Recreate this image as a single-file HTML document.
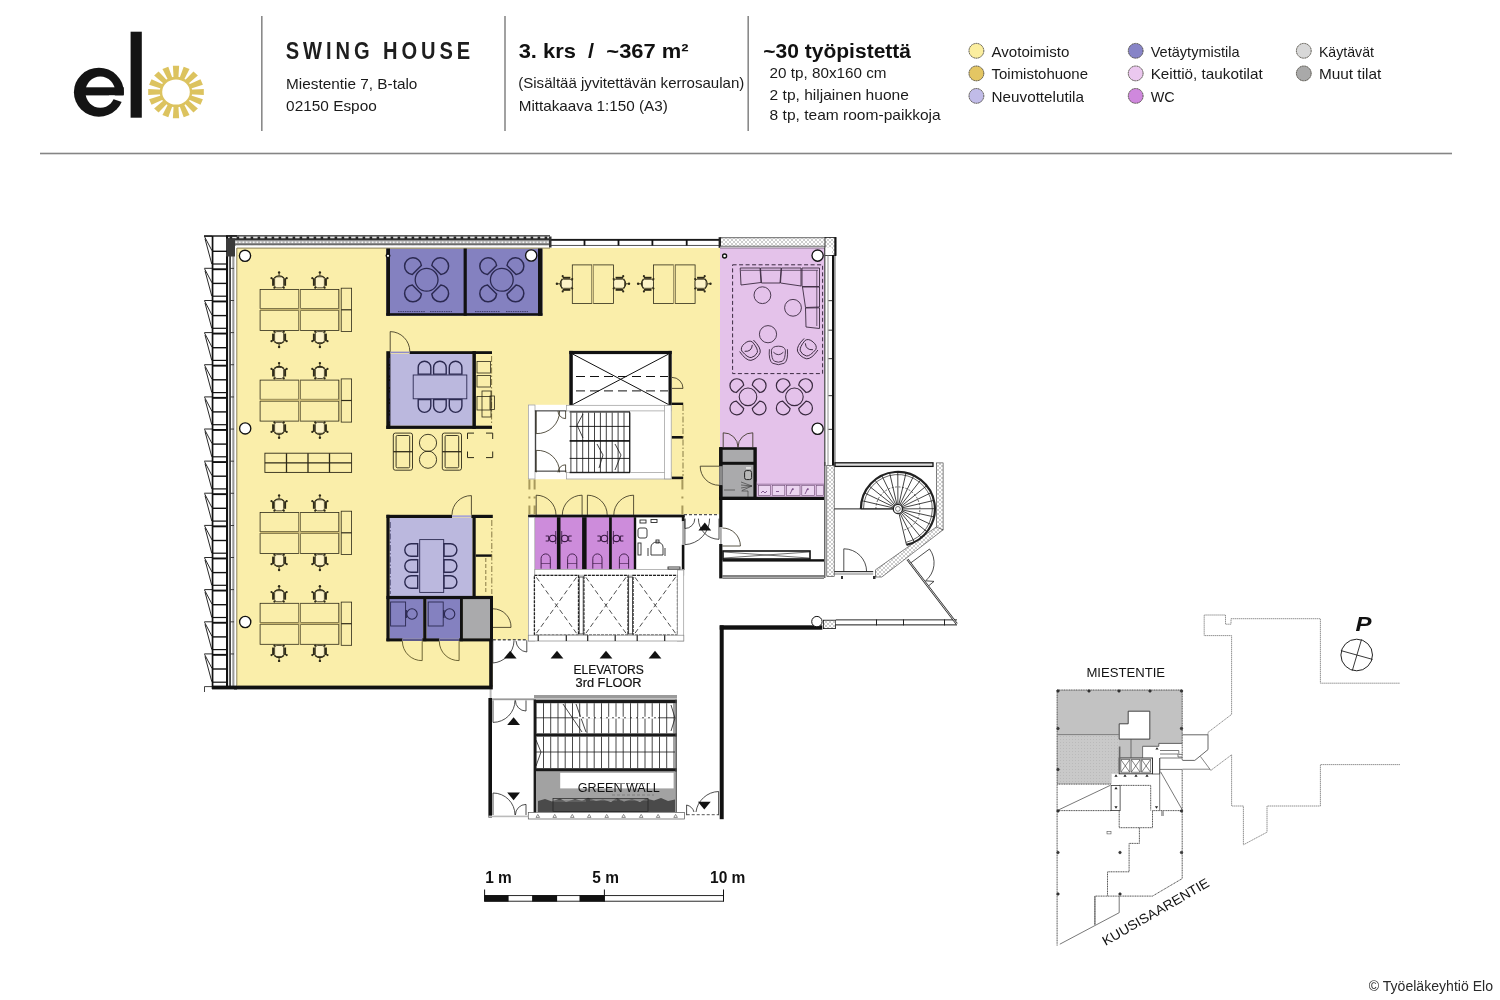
<!DOCTYPE html>
<html><head><meta charset="utf-8"><title>Swing House 3. krs</title>
<style>
html,body{margin:0;padding:0;background:#fff;}
body{width:1500px;height:1000px;overflow:hidden;}
svg{display:block;will-change:transform;}
text{font-family:"Liberation Sans",sans-serif;}
</style></head>
<body>
<svg width="1500" height="1000" viewBox="0 0 1500 1000">
<defs>
<pattern id="hatchTop" x="0" y="236.3" width="7" height="9.3" patternUnits="userSpaceOnUse">
 <rect width="7" height="9.3" fill="#bcbcbc"/>
 <rect y="0" width="7" height="3.3" fill="#262626"/>
 <rect x="1.2" y="0.5" width="4.4" height="1.6" fill="#fff"/>
 <rect y="3.3" width="7" height="1.4" fill="#8a8a8a"/>
 <circle cx="1.8" cy="6" r="0.8" fill="#fff"/><circle cx="5.3" cy="6" r="0.8" fill="#fff"/>
 <rect y="7.3" width="7" height="2" fill="#6a6a6a"/>
</pattern>
<pattern id="xhatch" width="4" height="4" patternUnits="userSpaceOnUse">
 <rect width="4" height="4" fill="#fff"/>
 <path d="M0,0 L4,4 M4,0 L0,4" stroke="#9a9a9a" stroke-width="0.5"/>
</pattern>
<pattern id="dots" width="3" height="3" patternUnits="userSpaceOnUse">
 <rect width="3" height="3" fill="#c9c9c9"/>
 <circle cx="1.5" cy="1.5" r="0.5" fill="#b5b5b5"/>
</pattern>
</defs>

<!-- ================= HEADER ================= -->
<g id="header">
 <!-- logo e -->
 <ellipse cx="98.85" cy="92.2" rx="24.95" ry="24.5" fill="#141414"/>
 <ellipse cx="100.3" cy="92.1" rx="14.9" ry="15.7" fill="#fff"/>
 <rect x="84.5" y="87.3" width="39.3" height="8.1" fill="#141414"/>
 <polygon points="109,95.4 127,95.4 127,103.8 114.5,99.4 109,98" fill="#fff"/>
 <!-- l -->
 <rect x="130.6" y="31.7" width="11.2" height="86" fill="#141414"/>
 <!-- sun -->
 <g transform="translate(176,92) scale(1,0.94)" fill="#dcc35f">
  <circle r="16.2"/>
  <g id="rays"><polygon points="-2.3,-13 2.3,-13 3.15,-27.8 -3.15,-27.8" transform="rotate(0.0)"/><polygon points="-2.3,-13 2.3,-13 3.15,-27.8 -3.15,-27.8" transform="rotate(22.5)"/><polygon points="-2.3,-13 2.3,-13 3.15,-27.8 -3.15,-27.8" transform="rotate(45.0)"/><polygon points="-2.3,-13 2.3,-13 3.15,-27.8 -3.15,-27.8" transform="rotate(67.5)"/><polygon points="-2.3,-13 2.3,-13 3.15,-27.8 -3.15,-27.8" transform="rotate(90.0)"/><polygon points="-2.3,-13 2.3,-13 3.15,-27.8 -3.15,-27.8" transform="rotate(112.5)"/><polygon points="-2.3,-13 2.3,-13 3.15,-27.8 -3.15,-27.8" transform="rotate(135.0)"/><polygon points="-2.3,-13 2.3,-13 3.15,-27.8 -3.15,-27.8" transform="rotate(157.5)"/></g>
  <use href="#rays" transform="rotate(180)"/>
  <ellipse rx="13.8" ry="13.4" fill="#fff"/>
 </g>
 <!-- separators -->
 <rect x="261" y="16" width="1.6" height="115" fill="#8a8a8a"/>
 <rect x="504.2" y="16" width="1.6" height="115" fill="#8a8a8a"/>
 <rect x="747.4" y="16" width="1.6" height="115" fill="#8a8a8a"/>
 <rect x="40" y="152.7" width="1412" height="1.6" fill="#858585"/>

 <text transform="scale(0.86,1)" x="332.3" y="59.5" font-size="23.4" font-weight="bold" fill="#1e1e1e" textLength="214.4" lengthAdjust="spacing">SWING HOUSE</text>
 <text x="286.1" y="89.1" font-size="15" fill="#1a1a1a" textLength="131.3" lengthAdjust="spacingAndGlyphs">Miestentie 7, B-talo</text>
 <text x="286.1" y="111" font-size="15" fill="#1a1a1a" textLength="90.7" lengthAdjust="spacingAndGlyphs">02150 Espoo</text>

 <text x="518.7" y="58.1" font-size="20.8" font-weight="bold" fill="#111" textLength="169.9" lengthAdjust="spacingAndGlyphs" xml:space="preserve">3. krs  /  ~367 m²</text>
 <text x="518.2" y="88.4" font-size="15" fill="#1a1a1a" textLength="226.2" lengthAdjust="spacingAndGlyphs">(Sisältää jyvitettävän kerrosaulan)</text>
 <text x="518.7" y="110.6" font-size="15" fill="#1a1a1a" textLength="149.1" lengthAdjust="spacingAndGlyphs">Mittakaava 1:150 (A3)</text>

 <text x="763.3" y="58" font-size="20.3" font-weight="bold" fill="#111" textLength="147.7" lengthAdjust="spacingAndGlyphs">~30 työpistettä</text>
 <text x="769.6" y="78.3" font-size="15" fill="#1a1a1a" textLength="116.9" lengthAdjust="spacingAndGlyphs">20 tp, 80x160 cm</text>
 <text x="769.6" y="99.6" font-size="15" fill="#1a1a1a" textLength="139.3" lengthAdjust="spacingAndGlyphs">2 tp, hiljainen huone</text>
 <text x="769.6" y="120.3" font-size="15" fill="#1a1a1a" textLength="171.1" lengthAdjust="spacingAndGlyphs">8 tp, team room-paikkoja</text>

 <!-- legend -->
 <g stroke="#3d3a30" stroke-width="0.9" stroke-dasharray="1.3,0.5">
  <circle cx="976.4" cy="50.8" r="7.4" fill="#fbee9f"/>
  <circle cx="976.4" cy="73.4" r="7.4" fill="#e4c663"/>
  <circle cx="976.4" cy="95.9" r="7.4" fill="#c1bce8"/>
  <circle cx="1135.7" cy="50.8" r="7.4" fill="#8784c7"/>
  <circle cx="1135.7" cy="73.4" r="7.4" fill="#ebc8ef"/>
  <circle cx="1135.7" cy="95.9" r="7.4" fill="#cf88dd"/>
  <circle cx="1303.8" cy="50.8" r="7.4" fill="#d8d8d8"/>
  <circle cx="1303.8" cy="73.4" r="7.4" fill="#a9a9a9"/>
 </g>
 <g font-size="15" fill="#1a1a1a">
  <text x="991.5" y="56.7" textLength="77.8" lengthAdjust="spacingAndGlyphs">Avotoimisto</text>
  <text x="991.5" y="79.2" textLength="96.5" lengthAdjust="spacingAndGlyphs">Toimistohuone</text>
  <text x="991.5" y="101.7" textLength="92.5" lengthAdjust="spacingAndGlyphs">Neuvottelutila</text>
  <text x="1150.7" y="56.7" textLength="89" lengthAdjust="spacingAndGlyphs">Vetäytymistila</text>
  <text x="1150.7" y="79.2" textLength="112" lengthAdjust="spacingAndGlyphs">Keittiö, taukotilat</text>
  <text x="1150.7" y="101.7" textLength="24" lengthAdjust="spacingAndGlyphs">WC</text>
  <text x="1318.9" y="56.7" textLength="55.1" lengthAdjust="spacingAndGlyphs">Käytävät</text>
  <text x="1318.9" y="79.2" textLength="62.4" lengthAdjust="spacingAndGlyphs">Muut tilat</text>
 </g>
</g>

<!-- ================= PLAN FILLS ================= -->
<g id="fills">
 <polygon points="237,248 720,248 720,514.5 528,514.5 528,640 492.8,640 492.8,686 237,686" fill="#faeeaa"/>
 <rect x="720" y="247.5" width="104.5" height="249.5" fill="#e4c2ea"/>
</g>


<g id="walls">
<rect x="386.3" y="248.5" width="156.1" height="67.2" fill="#8481c0" />
<rect x="389.0" y="354.0" width="83.4" height="71.7" fill="#bbb8de" />
<rect x="389.6" y="518.0" width="82.9" height="78.0" fill="#bbb8de" />
<rect x="389.6" y="599.0" width="33.6" height="39.8" fill="#8481c0" />
<rect x="426.4" y="599.0" width="33.6" height="39.8" fill="#8481c0" />
<rect x="462.9" y="599.0" width="27.1" height="39.8" fill="#aaaaac" />
<rect x="569.3" y="350.9" width="102.4" height="54.4" fill="#fff" />
<rect x="528.0" y="404.8" width="143.2" height="74.4" fill="#fff" />
<rect x="528.0" y="515.0" width="156.0" height="126.2" fill="#fff" />
<rect x="534.8" y="517.2" width="99.8" height="52.2" fill="#cd8cdb" />
<rect x="684.0" y="514.5" width="35.6" height="111.5" fill="#fff" />
<rect x="719.2" y="447.2" width="37.6" height="52.8" fill="#111" />
<rect x="722.4" y="449.8" width="31.0" height="12.0" fill="#aaaaac" />
<rect x="722.4" y="464.8" width="31.0" height="32.0" fill="#aaaaac" />
<rect x="756.8" y="481.6" width="67.2" height="15.4" fill="#e4c2ea" />
<rect x="758.5" y="485.5" width="11.9" height="10" fill="#ecd6f1" stroke="#6a4a70" stroke-width="0.6"/>
<rect x="772.2" y="485.5" width="12.6" height="10" fill="#ecd6f1" stroke="#6a4a70" stroke-width="0.6"/>
<rect x="786.6" y="485.5" width="13.4" height="10" fill="#ecd6f1" stroke="#6a4a70" stroke-width="0.6"/>
<rect x="801.8" y="485.5" width="12.6" height="10" fill="#ecd6f1" stroke="#6a4a70" stroke-width="0.6"/>
<rect x="816.2" y="485.5" width="7.4" height="10" fill="#ecd6f1" stroke="#6a4a70" stroke-width="0.6"/>
<line x1="756.8" y1="484.2" x2="824.0" y2="484.2" stroke="#6a4a70" stroke-width="0.6" />
<path d="M761,493 l2,-2 l2,2 l2,-2 M776,491.5 l3,0 M790,494 l3,-6 M791.5,490 l2.5,-1 M805,494 l3,-6 M806.5,490 l2.5,-1" stroke="#6a3a78" stroke-width="0.8" fill="none"/>
<rect x="226.0" y="235.3" width="324.0" height="1.0" fill="#111" />
<rect x="226" y="236.3" width="324" height="9.2" fill="url(#hatchTop)"/>
<rect x="226.0" y="238.8" width="324.0" height="1.0" fill="#222" />
<rect x="226.0" y="243.6" width="324.0" height="1.8" fill="#6a6a6a" />
<rect x="236.0" y="245.4" width="314.0" height="2.2" fill="#fff" />
<rect x="237.0" y="247.6" width="313.0" height="1.0" fill="#8c8157" />
<rect x="550.0" y="238.9" width="170.3" height="2.0" fill="#1a1a1a" />
<rect x="550.0" y="244.8" width="170.3" height="1.0" fill="#333" />
<rect x="550.0" y="240.9" width="170.3" height="3.9" fill="#fff" />
<rect x="583.6" y="240.0" width="1.8" height="5.5" fill="#111" />
<rect x="617.6" y="240.0" width="1.8" height="5.5" fill="#111" />
<rect x="651.5" y="240.0" width="1.8" height="5.5" fill="#111" />
<rect x="685.8" y="240.0" width="1.8" height="5.5" fill="#111" />
<rect x="549.0" y="236.5" width="2.5" height="11.0" fill="#333" />
<rect x="718.6" y="237.2" width="2.6" height="10.6" fill="#222" />
<rect x="720.0" y="237.4" width="105.0" height="1.0" fill="#333" />
<rect x="721" y="238.4" width="104" height="7.6" fill="url(#xhatch)"/>
<rect x="720.0" y="245.8" width="105.0" height="1.0" fill="#555" />
<rect x="720.0" y="246.8" width="105.0" height="1.0" fill="#fff" />
<rect x="720.0" y="247.6" width="104.5" height="0.8" fill="#6d5a72" />
<rect x="825" y="237.4" width="11" height="18" fill="url(#xhatch)" stroke="#111" stroke-width="0.8"/>
<rect x="832.0" y="255.0" width="2.3" height="211.0" fill="#111" />
<rect x="834.6" y="255.0" width="0.9" height="211.0" fill="#666" />
<rect x="834.3" y="237.4" width="1.9" height="18.6" fill="#111" />
<rect x="824.2" y="247.5" width="1.2" height="218.5" fill="#444" />
<rect x="827.6" y="255.0" width="0.8" height="211.0" fill="#777" />
<rect x="825.4" y="247.5" width="6.6" height="7.5" fill="#fff" />
<rect x="828.4" y="300.0" width="3.6" height="1.2" fill="#555" />
<rect x="828.4" y="329.6" width="3.6" height="1.2" fill="#555" />
<rect x="828.4" y="358.0" width="3.6" height="1.2" fill="#555" />
<rect x="828.4" y="395.0" width="3.6" height="1.2" fill="#555" />
<rect x="828.4" y="428.8" width="3.6" height="1.2" fill="#555" />
<rect x="386.3" y="248.5" width="3.7" height="67.2" fill="#111" />
<rect x="463.6" y="248.5" width="3.2" height="67.2" fill="#111" />
<rect x="538.0" y="248.5" width="4.4" height="67.2" fill="#111" />
<rect x="386.3" y="313.2" width="156.1" height="2.5" fill="#111" />
<rect x="386.3" y="351.2" width="4.1" height="77.7" fill="#111" />
<rect x="409.6" y="351.2" width="82.4" height="2.8" fill="#111" />
<rect x="390.4" y="351.6" width="19.2" height="1.6" fill="#8f8bc8" />
<rect x="472.4" y="351.2" width="3.5" height="77.7" fill="#111" />
<rect x="386.3" y="425.7" width="105.7" height="3.2" fill="#111" />
<line x1="491.6" y1="356.0" x2="491.6" y2="425.0" stroke="#7a6d3a" stroke-width="0.9" stroke-dasharray="6,2,1.5,2"/>
<rect x="386.4" y="514.8" width="65.6" height="3.2" fill="#111" />
<rect x="452.0" y="515.3" width="19.4" height="2.1" fill="#a9a5d6" />
<rect x="471.4" y="514.8" width="21.4" height="3.2" fill="#111" />
<rect x="386.4" y="514.8" width="3.2" height="126.4" fill="#111" />
<rect x="472.5" y="518.0" width="3.2" height="81.0" fill="#111" />
<rect x="386.4" y="595.9" width="106.4" height="3.2" fill="#111" />
<rect x="475.7" y="554.4" width="16.3" height="2.4" fill="#111" />
<line x1="491.8" y1="520.0" x2="491.8" y2="594.0" stroke="#7a6d3a" stroke-width="0.9" stroke-dasharray="6,2,1.5,2"/>
<line x1="485.8" y1="558.0" x2="485.8" y2="594.0" stroke="#7a6d3a" stroke-width="0.9" stroke-dasharray="4,2"/>
<rect x="423.2" y="599.0" width="3.2" height="42.2" fill="#111" />
<rect x="460.0" y="599.0" width="2.9" height="42.2" fill="#111" />
<rect x="490.0" y="596.0" width="3.0" height="45.2" fill="#111" />
<rect x="386.4" y="638.4" width="16.0" height="3.0" fill="#111" />
<rect x="422.2" y="638.4" width="17.1" height="3.0" fill="#111" />
<rect x="459.1" y="638.4" width="33.9" height="3.0" fill="#111" />
<rect x="402.4" y="638.8" width="19.8" height="2.2" fill="#5d5a8a" />
<rect x="439.3" y="638.8" width="19.8" height="2.2" fill="#5d5a8a" />
<rect x="489.2" y="640.0" width="3.6" height="46.4" fill="#111" />
<rect x="488.4" y="698.0" width="3.6" height="119.5" fill="#111" />
<rect x="489.6" y="686.4" width="2.0" height="11.6" fill="#bbb" />
<rect x="234.0" y="685.6" width="258.8" height="3.8" fill="#111" />
<rect x="234.0" y="246.0" width="3.0" height="440.0" fill="#fff" />
<rect x="236.3" y="248.0" width="1.0" height="438.0" fill="#8c8157" />
<rect x="569.3" y="350.9" width="102.4" height="3.2" fill="#111" />
<rect x="569.3" y="350.9" width="3.5" height="54.4" fill="#111" />
<rect x="668.5" y="350.9" width="3.2" height="54.4" fill="#111" />
<line x1="572.8" y1="354.1" x2="668.5" y2="404.5" stroke="#111" stroke-width="1" />
<line x1="668.5" y1="354.1" x2="572.8" y2="404.5" stroke="#111" stroke-width="1" />
<line x1="576.0" y1="376.5" x2="668.0" y2="376.5" stroke="#111" stroke-width="1" stroke-dasharray="9,5"/>
<line x1="576.0" y1="390.9" x2="668.0" y2="390.9" stroke="#111" stroke-width="1" stroke-dasharray="9,5"/>
<rect x="671.7" y="402.6" width="11.5" height="2.4" fill="#111" />
<rect x="671.7" y="436.0" width="11.5" height="2.6" fill="#111" />
<rect x="671.7" y="476.6" width="11.5" height="2.6" fill="#111" />
<line x1="683.0" y1="405.0" x2="683.0" y2="476.0" stroke="#7a6d3a" stroke-width="0.9" stroke-dasharray="6,2,1.5,2"/>
<rect x="528.4" y="405" width="6.6" height="74" fill="#fff" stroke="#999" stroke-width="0.7"/>
<rect x="534.8" y="410.0" width="31.6" height="1.6" fill="#777" />
<rect x="534.8" y="470.4" width="31.6" height="1.6" fill="#777" />
<rect x="566.4" y="405.3" width="104.6" height="5.6" fill="#fff" stroke="#999" stroke-width="0.7"/>
<rect x="566.4" y="472.6" width="104.6" height="6.4" fill="#fff" stroke="#999" stroke-width="0.7"/>
<rect x="664.6" y="405.3" width="6.6" height="73.6" fill="#fff" stroke="#999" stroke-width="0.7"/>
<rect x="535.0" y="410.5" width="1.2" height="61.5" fill="#444" />
<rect x="569.6" y="411.2" width="60.4" height="1.4" fill="#333" />
<rect x="569.6" y="440.0" width="60.4" height="1.8" fill="#222" />
<rect x="569.6" y="471.8" width="60.4" height="1.4" fill="#222" />
<line x1="569.6" y1="426.4" x2="629.6" y2="426.4" stroke="#111" stroke-width="0.9" />
<line x1="569.6" y1="458.4" x2="629.6" y2="458.4" stroke="#111" stroke-width="0.9" />
<line x1="570.9" y1="412.6" x2="570.9" y2="472.0" stroke="#111" stroke-width="0.8" />
<line x1="576.8" y1="412.6" x2="576.8" y2="472.0" stroke="#111" stroke-width="0.8" />
<line x1="582.7" y1="412.6" x2="582.7" y2="472.0" stroke="#111" stroke-width="0.8" />
<line x1="588.6" y1="412.6" x2="588.6" y2="472.0" stroke="#111" stroke-width="0.8" />
<line x1="594.5" y1="412.6" x2="594.5" y2="472.0" stroke="#111" stroke-width="0.8" />
<line x1="600.4" y1="412.6" x2="600.4" y2="472.0" stroke="#111" stroke-width="0.8" />
<line x1="606.3" y1="412.6" x2="606.3" y2="472.0" stroke="#111" stroke-width="0.8" />
<line x1="612.2" y1="412.6" x2="612.2" y2="472.0" stroke="#111" stroke-width="0.8" />
<line x1="618.1" y1="412.6" x2="618.1" y2="472.0" stroke="#111" stroke-width="0.8" />
<line x1="624.0" y1="412.6" x2="624.0" y2="472.0" stroke="#111" stroke-width="0.8" />
<line x1="629.9" y1="412.6" x2="629.9" y2="472.0" stroke="#111" stroke-width="0.8" />
<line x1="629.6" y1="412.0" x2="629.6" y2="472.5" stroke="#111" stroke-width="0.9" />
<path d="M583,414 L577,425 L583,438" stroke="#111" stroke-width="0.8" fill="none"/>
<path d="M597,444 L603,455 L599,468 M615,444 L621,455 L615,470" stroke="#111" stroke-width="0.8" fill="none"/>
<rect x="528.1" y="514.6" width="156.6" height="2.8" fill="#111" />
<rect x="528.4" y="517.4" width="6.4" height="123.6" fill="#fff" stroke="#999" stroke-width="0.7"/>
<rect x="556.9" y="517.2" width="3.6" height="52.4" fill="#111" />
<rect x="582.1" y="517.2" width="4.5" height="52.4" fill="#111" />
<rect x="609.1" y="517.2" width="2.7" height="52.4" fill="#111" />
<rect x="633.8" y="517.2" width="2.4" height="52.4" fill="#111" />
<rect x="681.8" y="515.0" width="2.6" height="6.3" fill="#111" />
<rect x="681.8" y="544.7" width="2.6" height="25.3" fill="#111" />
<rect x="682.2" y="521.3" width="1.8" height="23.4" fill="#aaa" />
<line x1="682.4" y1="479.5" x2="682.4" y2="514.4" stroke="#a89a5c" stroke-width="2" stroke-dasharray="10,7,2,7,10"/>
<line x1="529.4" y1="479.5" x2="529.4" y2="514.4" stroke="#a89a5c" stroke-width="2" stroke-dasharray="10,7,2,7,10"/>
<line x1="534.6" y1="479.5" x2="534.6" y2="514.4" stroke="#a89a5c" stroke-width="2" stroke-dasharray="10,7,2,7,10"/>
<rect x="534.8" y="569.6" width="149" height="5.6" fill="#fff" stroke="#999" stroke-width="0.7"/>
<rect x="534.4" y="575.3" width="44.1" height="59.9" fill="#fff" stroke="#222" stroke-width="1.3" stroke-dasharray="3,1"/>
<path d="M536.4,577.3 L576.5,633.2 M576.5,577.3 L536.4,633.2" stroke="#444" stroke-width="0.95" stroke-dasharray="5,3" fill="none"/>
<rect x="583.9" y="575.3" width="44.1" height="59.9" fill="#fff" stroke="#222" stroke-width="1.3" stroke-dasharray="3,1"/>
<path d="M585.9,577.3 L626,633.2 M626,577.3 L585.9,633.2" stroke="#444" stroke-width="0.95" stroke-dasharray="5,3" fill="none"/>
<rect x="633" y="575.3" width="44.5" height="59.9" fill="#fff" stroke="#222" stroke-width="1.3" stroke-dasharray="3,1"/>
<path d="M635,577.3 L675.5,633.2 M675.5,577.3 L635,633.2" stroke="#444" stroke-width="0.95" stroke-dasharray="5,3" fill="none"/>
<rect x="579.2" y="577" width="4" height="57" fill="#fff" stroke="#333" stroke-width="0.9"/>
<rect x="628.6" y="577" width="4" height="57" fill="#fff" stroke="#333" stroke-width="0.9"/>
<rect x="677.5" y="570" width="6.2" height="71" fill="#fff" stroke="#999" stroke-width="0.7"/>
<rect x="528.3" y="635.2" width="155.5" height="5.8" fill="#fff" stroke="#888" stroke-width="0.7"/>
<rect x="537.6" y="635.2" width="1.2" height="5.8" fill="#222" />
<rect x="565.7" y="635.2" width="1.2" height="5.8" fill="#222" />
<rect x="587.1" y="635.2" width="1.2" height="5.8" fill="#222" />
<rect x="614.6" y="635.2" width="1.2" height="5.8" fill="#222" />
<rect x="636.6" y="635.2" width="1.2" height="5.8" fill="#222" />
<rect x="664.1" y="635.2" width="1.2" height="5.8" fill="#222" />
<line x1="492.8" y1="639.8" x2="527.6" y2="639.8" stroke="#555" stroke-width="1.4" stroke-dasharray="3,2"/>
<line x1="684.0" y1="514.6" x2="719.0" y2="514.6" stroke="#555" stroke-width="1.4" stroke-dasharray="3,2"/>
<rect x="719.2" y="496.8" width="104.8" height="3.2" fill="#111" />
<rect x="719.2" y="447.2" width="3.2" height="19.0" fill="#111" />
<rect x="719.2" y="466.2" width="3.2" height="19.1" fill="#8a8a8a" />
<rect x="719.2" y="485.3" width="3.2" height="41.9" fill="#111" />
<rect x="744.6" y="470.6" width="7" height="9" rx="2" fill="#b8b8b8" stroke="#222" stroke-width="1"/>
<path d="M752,486 L741,482 M752,486 L741,485 M752,486 L741,488 M752,486 L742,490.5 M741.5,491 H748 V497 M724,490 H735" stroke="#333" stroke-width="0.6" fill="none"/>
<rect x="746" y="467" width="5" height="2" fill="#ddd"/>
<rect x="719.2" y="544.0" width="3.2" height="34.4" fill="#111" />
<rect x="720.0" y="527.2" width="1.8" height="16.8" fill="#aaa" />
<rect x="723" y="551" width="87" height="8" fill="#fff" stroke="#111" stroke-width="1.6"/>
<line x1="724.0" y1="552.0" x2="809.0" y2="558.0" stroke="#111" stroke-width="0.6" />
<line x1="724.0" y1="558.0" x2="809.0" y2="552.0" stroke="#111" stroke-width="0.6" />
<rect x="722.4" y="559.2" width="101.6" height="2.4" fill="#111" />
<rect x="722.4" y="575.4" width="101.6" height="1.2" fill="#333" />
<rect x="722.4" y="577.6" width="101.6" height="1.0" fill="#333" />
<rect x="824.2" y="462.0" width="1.2" height="116.0" fill="#444" />
<rect x="835" y="462.8" width="98" height="3.6" fill="#ddd" stroke="#111" stroke-width="1.3"/>
<rect x="826.8" y="465.4" width="7.4" height="111" fill="url(#xhatch)" stroke="#333" stroke-width="0.6"/>
<rect x="936.3" y="462.9" width="6.8" height="67" fill="url(#xhatch)" stroke="#333" stroke-width="0.6"/>
<polygon points="943.1,529.8 936.3,527 875.5,569.8 875.5,577 881.8,577" fill="url(#xhatch)" stroke="#333" stroke-width="0.6"/>
<rect x="834.2" y="571.0" width="39.0" height="1.2" fill="#333" />
<rect x="834.2" y="573.6" width="39.0" height="0.8" fill="#555" />
<rect x="841.0" y="576.0" width="2.0" height="3.0" fill="#333" />
<rect x="873.0" y="576.0" width="2.5" height="3.0" fill="#333" />
<rect x="719.7" y="625.3" width="102.6" height="4.4" fill="#111" />
<rect x="719.7" y="625.3" width="4.0" height="193.9" fill="#111" />
<circle cx="816.9" cy="621.6" r="5.2" fill="#fff" stroke="#111" stroke-width="1"/>
<rect x="823.6" y="620.2" width="12" height="8.4" fill="url(#xhatch)" stroke="#111" stroke-width="0.8"/>
<rect x="835.8" y="619.4" width="121.2" height="1.2" fill="#222" />
<rect x="835.8" y="624.2" width="121.2" height="1.2" fill="#222" />
<rect x="835.8" y="620.6" width="121.2" height="3.6" fill="#fff" />
<rect x="876.0" y="619.4" width="1.0" height="6.0" fill="#222" />
<rect x="903.0" y="619.4" width="1.0" height="6.0" fill="#222" />
<rect x="944.0" y="619.4" width="1.0" height="6.0" fill="#222" />
<line x1="907.4" y1="559.3" x2="956.8" y2="623.9" stroke="#222" stroke-width="2.2" />
<line x1="907.4" y1="559.3" x2="956.8" y2="623.9" stroke="#fff" stroke-width="0.8" />
<rect x="492.0" y="698.4" width="42.0" height="1.8" fill="#999" />
<rect x="528.3" y="812.4" width="156.2" height="6.6" fill="#fff" stroke="#555" stroke-width="0.7"/>
<line x1="686.7" y1="814.6" x2="718.6" y2="814.6" stroke="#777" stroke-width="1.4" stroke-dasharray="3,2"/>
<rect x="488.4" y="815.6" width="39.9" height="1.6" fill="#bbb" />
</g>
<g id="facadeL">
<rect x="204" y="235.3" width="33" height="1.4" fill="#111"/>
<rect x="211.7" y="236" width="1.7" height="453" fill="#111"/>
<rect x="226" y="236" width="2.1" height="453" fill="#111"/>
<rect x="229.3" y="256" width="1.5" height="430" fill="#1a1a1a"/>
<rect x="232.3" y="256" width="2.1" height="430" fill="#9a9a9a"/>
<rect x="226" y="238.5" width="9" height="18" fill="#3a3a3a"/>
<rect x="212" y="250.6" width="15" height="1.4" fill="#111"/>
<path d="M204.3,236.2 H212 M204.5,236.6 L212,250.7 M205,238.7 L211.8,264.0" stroke="#111" stroke-width="0.9" fill="none"/>
<rect x="212" y="263.4" width="15" height="1.2" fill="#111"/>
<rect x="212" y="268.3" width="15" height="1.9" fill="#111"/>
<rect x="230" y="267.9" width="4" height="0.9" fill="#333"/>
<rect x="212" y="282.7" width="15" height="1.4" fill="#111"/>
<path d="M204.3,268.3 H212 M204.5,268.7 L212,282.8 M205,270.8 L211.8,296.1" stroke="#111" stroke-width="0.9" fill="none"/>
<rect x="212" y="295.6" width="15" height="1.2" fill="#111"/>
<rect x="212" y="300.5" width="15" height="1.9" fill="#111"/>
<rect x="230" y="300.1" width="4" height="0.9" fill="#333"/>
<rect x="212" y="314.9" width="15" height="1.4" fill="#111"/>
<path d="M204.3,300.5 H212 M204.5,300.9 L212,315.0 M205,303.0 L211.8,328.3" stroke="#111" stroke-width="0.9" fill="none"/>
<rect x="212" y="327.7" width="15" height="1.2" fill="#111"/>
<rect x="212" y="332.6" width="15" height="1.9" fill="#111"/>
<rect x="230" y="332.2" width="4" height="0.9" fill="#333"/>
<rect x="212" y="347.0" width="15" height="1.4" fill="#111"/>
<path d="M204.3,332.6 H212 M204.5,333.0 L212,347.1 M205,335.1 L211.8,360.4" stroke="#111" stroke-width="0.9" fill="none"/>
<rect x="212" y="359.8" width="15" height="1.2" fill="#111"/>
<rect x="212" y="364.7" width="15" height="1.9" fill="#111"/>
<rect x="230" y="364.3" width="4" height="0.9" fill="#333"/>
<rect x="212" y="379.1" width="15" height="1.4" fill="#111"/>
<path d="M204.3,364.7 H212 M204.5,365.1 L212,379.2 M205,367.2 L211.8,392.5" stroke="#111" stroke-width="0.9" fill="none"/>
<rect x="212" y="392.0" width="15" height="1.2" fill="#111"/>
<rect x="212" y="396.9" width="15" height="1.9" fill="#111"/>
<rect x="230" y="396.5" width="4" height="0.9" fill="#333"/>
<rect x="212" y="411.2" width="15" height="1.4" fill="#111"/>
<path d="M204.3,396.9 H212 M204.5,397.2 L212,411.4 M205,399.4 L211.8,424.7" stroke="#111" stroke-width="0.9" fill="none"/>
<rect x="212" y="424.1" width="15" height="1.2" fill="#111"/>
<rect x="212" y="429.0" width="15" height="1.9" fill="#111"/>
<rect x="230" y="428.6" width="4" height="0.9" fill="#333"/>
<rect x="212" y="443.4" width="15" height="1.4" fill="#111"/>
<path d="M204.3,429.0 H212 M204.5,429.4 L212,443.5 M205,431.5 L211.8,456.8" stroke="#111" stroke-width="0.9" fill="none"/>
<rect x="212" y="456.2" width="15" height="1.2" fill="#111"/>
<rect x="212" y="461.1" width="15" height="1.9" fill="#111"/>
<rect x="230" y="460.7" width="4" height="0.9" fill="#333"/>
<rect x="212" y="475.5" width="15" height="1.4" fill="#111"/>
<path d="M204.3,461.1 H212 M204.5,461.5 L212,475.6 M205,463.6 L211.8,488.9" stroke="#111" stroke-width="0.9" fill="none"/>
<rect x="212" y="488.3" width="15" height="1.2" fill="#111"/>
<rect x="212" y="493.2" width="15" height="1.9" fill="#111"/>
<rect x="230" y="492.8" width="4" height="0.9" fill="#333"/>
<rect x="212" y="507.6" width="15" height="1.4" fill="#111"/>
<path d="M204.3,493.2 H212 M204.5,493.6 L212,507.7 M205,495.7 L211.8,521.0" stroke="#111" stroke-width="0.9" fill="none"/>
<rect x="212" y="520.5" width="15" height="1.2" fill="#111"/>
<rect x="212" y="525.4" width="15" height="1.9" fill="#111"/>
<rect x="230" y="525.0" width="4" height="0.9" fill="#333"/>
<rect x="212" y="539.8" width="15" height="1.4" fill="#111"/>
<path d="M204.3,525.4 H212 M204.5,525.8 L212,539.9 M205,527.9 L211.8,553.2" stroke="#111" stroke-width="0.9" fill="none"/>
<rect x="212" y="552.6" width="15" height="1.2" fill="#111"/>
<rect x="212" y="557.5" width="15" height="1.9" fill="#111"/>
<rect x="230" y="557.1" width="4" height="0.9" fill="#333"/>
<rect x="212" y="571.9" width="15" height="1.4" fill="#111"/>
<path d="M204.3,557.5 H212 M204.5,557.9 L212,572.0 M205,560.0 L211.8,585.3" stroke="#111" stroke-width="0.9" fill="none"/>
<rect x="212" y="584.7" width="15" height="1.2" fill="#111"/>
<rect x="212" y="589.6" width="15" height="1.9" fill="#111"/>
<rect x="230" y="589.2" width="4" height="0.9" fill="#333"/>
<rect x="212" y="604.0" width="15" height="1.4" fill="#111"/>
<path d="M204.3,589.6 H212 M204.5,590.0 L212,604.1 M205,592.1 L211.8,617.4" stroke="#111" stroke-width="0.9" fill="none"/>
<rect x="212" y="616.9" width="15" height="1.2" fill="#111"/>
<rect x="212" y="621.8" width="15" height="1.9" fill="#111"/>
<rect x="230" y="621.4" width="4" height="0.9" fill="#333"/>
<rect x="212" y="636.2" width="15" height="1.4" fill="#111"/>
<path d="M204.3,621.8 H212 M204.5,622.2 L212,636.3 M205,624.3 L211.8,649.6" stroke="#111" stroke-width="0.9" fill="none"/>
<rect x="212" y="649.0" width="15" height="1.2" fill="#111"/>
<rect x="212" y="653.9" width="15" height="1.9" fill="#111"/>
<rect x="230" y="653.5" width="4" height="0.9" fill="#333"/>
<rect x="212" y="668.3" width="15" height="1.4" fill="#111"/>
<path d="M204.3,653.9 H212 M204.5,654.3 L212,668.4 M205,656.4 L211.8,681.7" stroke="#111" stroke-width="0.9" fill="none"/>
<rect x="212" y="681.6" width="15" height="1.2" fill="#111"/>
<rect x="212" y="685.6" width="25" height="3.8" fill="#111"/>
<path d="M204.5,692 L204.5,686.6 H212" stroke="#111" stroke-width="0.8" fill="none"/>
</g>

<defs>
 <g id="chO">
  <rect x="-4.5" y="-4.6" width="9" height="11" rx="2.2" fill="#fcf3c8" stroke="#2e2a18" stroke-width="0.8"/>
  <path d="M-4.9,-3.6 Q0,-7.8 4.9,-3.6" fill="none" stroke="#2e2a18" stroke-width="1.1"/>
  <path d="M0,-6 V-8.6" stroke="#2e2a18" stroke-width="0.9"/>
  <circle cx="0" cy="-9" r="1.2" fill="#2e2a18"/>
  <rect x="-7" y="-3.2" width="2" height="7.6" fill="#2e2a18"/>
  <rect x="5" y="-3.2" width="2" height="7.6" fill="#2e2a18"/>
  <circle cx="-7.6" cy="-3.2" r="1.1" fill="#2e2a18"/><circle cx="7.6" cy="-3.2" r="1.1" fill="#2e2a18"/>
  <circle cx="-4.7" cy="6.3" r="1.1" fill="#2e2a18"/><circle cx="4.7" cy="6.3" r="1.1" fill="#2e2a18"/>
 </g>
 <path id="chD" d="M-6.4,5.4 A8.4,8.4 0 1 1 6.4,5.4 Z" fill="none" stroke-width="1.5"/>
 <path id="chU" d="M-6.3,6.6 V0 A6.3,6.3 0 0 1 6.3,0 V6.6 Z" fill="none" stroke-width="1.4"/>
 <g id="deskCl">
  <rect x="260.1" y="0" width="38.7" height="19.2" fill="#faeeaa" stroke="#2e2a18" stroke-width="0.8"/>
  <rect x="300.4" y="0" width="38.4" height="19.2" fill="#faeeaa" stroke="#2e2a18" stroke-width="0.8"/>
  <rect x="260.1" y="21.1" width="38.7" height="19.9" fill="#faeeaa" stroke="#2e2a18" stroke-width="0.8"/>
  <rect x="300.4" y="21.1" width="38.4" height="19.9" fill="#faeeaa" stroke="#2e2a18" stroke-width="0.8"/>
  <rect x="260.1" y="19.2" width="78.7" height="1.9" fill="#c4b36e"/>
  <rect x="298.8" y="0" width="1.6" height="41" fill="#d2c282"/>
  <rect x="341.2" y="-1.2" width="10.4" height="43.2" fill="#faeeaa" stroke="#2e2a18" stroke-width="0.8"/>
  <line x1="341.2" y1="20.4" x2="351.6" y2="20.4" stroke="#2e2a18" stroke-width="1.2"/>
  <line x1="339.6" y1="0" x2="339.6" y2="41" stroke="#b8a96a" stroke-width="0.8"/>
  <use href="#chO" x="279.1" y="-8"/>
  <use href="#chO" x="319.9" y="-8"/>
  <use href="#chO" transform="translate(279.1,48.6) rotate(180)"/>
  <use href="#chO" transform="translate(319.9,48.6) rotate(180)"/>
 </g>
 <g id="rtable">
  <circle r="11.4" fill="none" stroke-width="1.3"/>
  <use href="#chD" transform="rotate(135) translate(0,-19.2)"/>
  <use href="#chD" transform="rotate(-135) translate(0,-19.2)"/>
  <use href="#chD" transform="rotate(45) translate(0,-19.2)"/>
  <use href="#chD" transform="rotate(-45) translate(0,-19.2)"/>
 </g>
 <g id="rtableK">
  <circle r="8.8" fill="none" stroke-width="1.1"/>
  <g transform="scale(0.82)">
  <use href="#chD" transform="rotate(135) translate(0,-19.2)"/>
  <use href="#chD" transform="rotate(-135) translate(0,-19.2)"/>
  <use href="#chD" transform="rotate(45) translate(0,-19.2)"/>
  <use href="#chD" transform="rotate(-45) translate(0,-19.2)"/>
  </g>
 </g>
 <g id="armch">
  <path d="M-9,-6 Q-10,5 -6,8 Q0,11 6,8 Q10,5 9,-6" fill="none" stroke-width="0.9"/>
  <path d="M-7,-5 Q-7,4 -4,6 Q0,8 4,6 Q7,4 7,-5" fill="none" stroke-width="0.9"/>
  <path d="M-7,-5 Q-6,-9 0,-9 Q6,-9 7,-5" fill="none" stroke-width="0.9"/>
  <path d="M-5,-3 Q0,2 5,-3" fill="none" stroke-width="0.9"/>
 </g>
 <g id="doorR">
  <path d="M0,0 V-1 M0,0 A1,1 0 0 1 1,1" fill="none"/>
 </g>
</defs>

<g id="furn">
<use href="#deskCl" y="289.4"/>
<use href="#deskCl" y="380.1"/>
<use href="#deskCl" y="512.4"/>
<use href="#deskCl" y="603.3"/>
<rect x="264.9" y="453.2" width="86.7" height="19.2" fill="#faeeaa" stroke="#2e2a18" stroke-width="0.9"/>
<path d="M286.5,453.2 V472.4 M308,453.2 V472.4 M329.5,453.2 V472.4 M264.9,462.9 H351.6" stroke="#2e2a18" stroke-width="1.3"/>
<rect x="572.3" y="264.9" width="19.6" height="38.5" fill="#faeeaa" stroke="#2e2a18" stroke-width="0.8"/>
<rect x="593.6" y="264.9" width="20.0" height="38.5" fill="#faeeaa" stroke="#2e2a18" stroke-width="0.8"/>
<rect x="591.9" y="264.9" width="1.7" height="38.5" fill="#d8c98a"/>
<rect x="653.5" y="264.9" width="19.9" height="38.5" fill="#faeeaa" stroke="#2e2a18" stroke-width="0.8"/>
<rect x="675.2" y="264.9" width="19.9" height="38.5" fill="#faeeaa" stroke="#2e2a18" stroke-width="0.8"/>
<rect x="673.4" y="264.9" width="1.8" height="38.5" fill="#d8c98a"/>
<use href="#chO" transform="translate(565.9,283.8) rotate(-90)"/>
<use href="#chO" transform="translate(620,283.8) rotate(90)"/>
<use href="#chO" transform="translate(647.1,283.8) rotate(-90)"/>
<use href="#chO" transform="translate(701.5,283.8) rotate(90)"/>
<g stroke="#2b2950"><use href="#rtable" x="426.6" y="279.8"/><use href="#rtable" x="501.8" y="279.8"/></g>
<path d="M398,311.6 H425 M430,311.6 H452 M475,311.6 H500 M506,311.6 H528" stroke="#2b2950" stroke-width="0.8" stroke-dasharray="1.5,0.8"/>
<g stroke="#2b2950" fill="none">
<rect x="413.2" y="375" width="53.6" height="23.8" stroke-width="0.9"/>
<use href="#chU" transform="translate(424.5,367.5)"/>
<use href="#chU" transform="translate(424.5,406.1) rotate(180)"/>
<use href="#chU" transform="translate(439.9,367.5)"/>
<use href="#chU" transform="translate(439.9,406.1) rotate(180)"/>
<use href="#chU" transform="translate(455.6,367.5)"/>
<use href="#chU" transform="translate(455.6,406.1) rotate(180)"/>
<line x1="389.4" y1="358" x2="389.4" y2="424" stroke="#2b2950" stroke-width="0.8" stroke-dasharray="6,2,1.5,2"/>
<rect x="419.7" y="539.6" width="24" height="52.8" stroke-width="0.9"/>
<use href="#chU" transform="translate(411.1,550) rotate(-90)"/>
<use href="#chU" transform="translate(450.6,550) rotate(90)"/>
<use href="#chU" transform="translate(411.1,566) rotate(-90)"/>
<use href="#chU" transform="translate(450.6,566) rotate(90)"/>
<use href="#chU" transform="translate(411.1,582) rotate(-90)"/>
<use href="#chU" transform="translate(450.6,582) rotate(90)"/>
<line x1="390.2" y1="522" x2="390.2" y2="594" stroke="#2b2950" stroke-width="0.8" stroke-dasharray="6,2,1.5,2"/>
<rect x="390.6" y="602" width="15" height="24" stroke-width="0.9"/>
<circle cx="412" cy="614" r="5.2" stroke-width="1.1"/>
<path d="M406.2,610 V618" stroke-width="1.4"/>
<rect x="428.20000000000005" y="602" width="15" height="24" stroke-width="0.9"/>
<circle cx="449.6" cy="614" r="5.2" stroke-width="1.1"/>
<path d="M443.8,610 V618" stroke-width="1.4"/>
</g>
<g stroke="#2e2a18" fill="none" stroke-width="0.8">
<rect x="477" y="361.5" width="13.5" height="11.5"/><rect x="477" y="375.5" width="13.5" height="11.5"/>
<rect x="477" y="396.5" width="14" height="13.5"/><rect x="482" y="391" width="9" height="26"/><rect x="490" y="396" width="4.5" height="13.5"/>
</g>
<g stroke="#2e2a18" fill="none" stroke-width="0.9">
<rect x="393.3" y="433.1" width="19.2" height="37.1" rx="2"/>
<rect x="396.1" y="435.5" width="13.6" height="32.3" rx="1.2"/>
<line x1="393.3" y1="451.7" x2="412.5" y2="451.7" stroke-width="1.3"/>
<rect x="442.3" y="433.1" width="19.2" height="37.1" rx="2"/>
<rect x="445.1" y="435.5" width="13.6" height="32.3" rx="1.2"/>
<line x1="442.3" y1="451.7" x2="461.5" y2="451.7" stroke-width="1.3"/>
<circle cx="428" cy="442.9" r="8.6"/><circle cx="428" cy="459.7" r="8.6"/>
<path d="M467.5,439 V433.1 H474 M486,433.1 H492.7 V439 M467.5,451.5 V457.6 H474 M486,457.6 H492.7 V451.5" stroke-width="1"/>
</g>
<g stroke="#3a2a40" fill="none" stroke-width="0.9">
<rect x="732.6" y="264.8" width="90" height="108.8" stroke-dasharray="4,2.5" stroke-width="1"/>
<path d="M740.2,268 L760,268 L761,282.5 L741,285 Z M760.5,268 L781.2,268 L780,283 L761.5,283 Z M781.5,268 L801,268 L801,286 L780.5,283 Z M802,268 L819.5,268 L819.5,286.5 L802,286.5 Z"/>
<path d="M802.5,287 L819.5,287 L819.5,307 L805.5,307.5 Z M805.5,308 L819.5,307.8 L819.5,328.5 L806,327 Z"/>
<path d="M741,270.3 H818 M816.8,270.3 V326" stroke-width="0.7"/>
<circle cx="762.4" cy="295.2" r="8.4"/><circle cx="793" cy="307.8" r="8.4"/><circle cx="768" cy="334.2" r="8.6"/>
<use href="#armch" transform="translate(750.4,350.4) rotate(-40)"/>
<use href="#armch" transform="translate(778.4,355.2) rotate(0)"/>
<use href="#armch" transform="translate(807.2,348.8) rotate(40)"/>
<use href="#rtableK" x="748" y="396.8"/><use href="#rtableK" x="794.4" y="396.8"/>
</g>
<g fill="#fff" stroke="#111" stroke-width="1.35">
<circle cx="245" cy="255.8" r="5.6"/>
<circle cx="245.2" cy="428.4" r="5.6"/>
<circle cx="245.2" cy="622" r="5.6"/>
<circle cx="531.2" cy="255.5" r="5.6"/>
<circle cx="817.6" cy="255.6" r="5.6"/>
<circle cx="817.6" cy="428.8" r="5.6"/>
<circle cx="388" cy="255.8" r="1.8"/><circle cx="724.6" cy="256" r="2"/>
</g>
<g><path d="M390.2,351.4 L390.2,331.6 A19.8,19.8 0 0 1 409.8,351.4" fill="none" stroke="#2e2a18" stroke-width="0.8"/><path d="M471.4,514.8 L471.4,495.6 A19.2,19.2 0 0 0 452.0,514.8" fill="none" stroke="#2e2a18" stroke-width="0.8"/><path d="M422.2,641.2 L422.2,660.6 A19.4,19.4 0 0 1 402.4,641.2" fill="none" stroke="#5e5628" stroke-width="0.9"/><path d="M459.1,641.2 L459.1,660.6 A19.4,19.4 0 0 1 439.3,641.2" fill="none" stroke="#5e5628" stroke-width="0.9"/><path d="M493.0,627.4 L511.0,627.4 A18.0,18.0 0 0 0 493.0,608.8" fill="none" stroke="#2e2a18" stroke-width="0.8"/><path d="M536.2,411.0 L536.2,433.6 A22.6,22.6 0 0 0 559.6,411.0" fill="none" stroke="#2e2a18" stroke-width="0.8"/><path d="M536.2,472.4 L536.2,450.4 A22.0,22.0 0 0 1 559.6,472.4" fill="none" stroke="#2e2a18" stroke-width="0.8"/><path d="M565.6,411.0 L565.6,418.6 A7.6,7.6 0 0 1 558.0,411.0" fill="none" stroke="#2e2a18" stroke-width="0.8"/><path d="M565.6,472.4 L565.6,464.8 A7.6,7.6 0 0 0 558.0,472.4" fill="none" stroke="#2e2a18" stroke-width="0.8"/><path d="M536.2,515.0 L536.2,495.2 A19.8,19.8 0 0 1 556.0,515.0" fill="none" stroke="#2e2a18" stroke-width="0.8"/><path d="M582.1,515.0 L582.1,495.2 A19.8,19.8 0 0 0 562.3,515.0" fill="none" stroke="#2e2a18" stroke-width="0.8"/><path d="M587.4,515.0 L587.4,495.2 A19.8,19.8 0 0 1 607.2,515.0" fill="none" stroke="#2e2a18" stroke-width="0.8"/><path d="M633.6,515.0 L633.6,495.2 A19.8,19.8 0 0 0 613.8,515.0" fill="none" stroke="#2e2a18" stroke-width="0.8"/><path d="M672.0,388.4 L683.0,388.4 A11.0,11.0 0 0 0 672.0,377.4" fill="none" stroke="#2e2a18" stroke-width="0.8"/><path d="M723.2,447.2 L723.2,432.8 A14.4,14.4 0 0 1 738.0,447.2" fill="none" stroke="#2e2a18" stroke-width="0.8"/><path d="M752.8,447.2 L752.8,432.8 A14.4,14.4 0 0 0 738.0,447.2" fill="none" stroke="#2e2a18" stroke-width="0.8"/><path d="M719.2,466.2 L700.2,466.2 A19.0,19.0 0 0 0 719.2,485.3" fill="none" stroke="#2e2a18" stroke-width="0.8"/><path d="M722.4,546.0 L740.4,546.0 A18.0,18.0 0 0 0 722.4,528.0" fill="none" stroke="#2e2a18" stroke-width="0.8"/><path d="M684.9,518.6 L684.9,544.7 A26.1,26.1 0 0 0 709.6,518.6" fill="none" stroke="#222" stroke-width="0.8"/><path d="M719.0,518.6 L719.0,539.3 A20.7,20.7 0 0 1 698.4,518.6" fill="none" stroke="#222" stroke-width="0.8"/><path d="M684.9,518.6 L684.9,528.5 A9.9,9.9 0 0 0 694.8,518.6" fill="none" stroke="#222" stroke-width="0.8"/><path d="M492.8,640.2 L492.8,663.0 A22.8,22.8 0 0 0 514.0,641.0" fill="none" stroke="#222" stroke-width="0.8"/><path d="M526.8,640.2 L526.8,652.0 A11.8,11.8 0 0 1 516.0,641.0" fill="none" stroke="#222" stroke-width="0.8"/><path d="M843.8,571.6 L843.8,548.8 A22.8,22.8 0 0 1 866.6,571.6" fill="none" stroke="#222" stroke-width="0.8"/><path d="M910.9,562.8 L929.5,549.0 A23.2,23.2 0 0 1 925.6,580.8" fill="none" stroke="#222" stroke-width="0.8"/><path d="M925.6,580.8 L934,581.4 L928.9,585.6" fill="none" stroke="#222" stroke-width="0.8"/><path d="M493.0,700.4 L493.0,722.4 A22.0,22.0 0 0 0 515.0,700.4" fill="none" stroke="#222" stroke-width="0.8"/><path d="M526.0,700.4 L526.0,711.0 A10.6,10.6 0 0 1 515.4,700.4" fill="none" stroke="#222" stroke-width="0.8"/><path d="M493.0,815.0 L493.0,793.0 A22.0,22.0 0 0 1 515.0,815.0" fill="none" stroke="#222" stroke-width="0.8"/><path d="M526.0,815.0 L526.0,804.4 A10.6,10.6 0 0 0 515.4,815.0" fill="none" stroke="#222" stroke-width="0.8"/><path d="M718.6,815.2 L718.6,791.5 A23.7,23.7 0 0 0 696.0,812.0" fill="none" stroke="#222" stroke-width="0.8"/><path d="M686.6,815.2 L686.6,805.0 A10.2,10.2 0 0 1 694.0,812.0" fill="none" stroke="#222" stroke-width="0.8"/></g>
<g fill="#111"><polygon points="503.8,658.6 516.6,658.6 510.2,650.8"/><polygon points="550.6,658.6 563.4,658.6 557.0,650.8"/><polygon points="599.6,658.6 612.4,658.6 606.0,650.8"/><polygon points="648.6,658.6 661.4,658.6 655.0,650.8"/><polygon points="507.2,725.0 520.0,725.0 513.6,717.2"/><polygon points="507.2,792.5 520.0,792.5 513.6,800.3"/><polygon points="697.9,801.8 710.7,801.8 704.3,809.6"/><polygon points="698.4,530.4 711.2,530.4 704.8,522.6"/></g>
<g stroke="#222" fill="none">
<path d="M860.9,508.9 A37.0,37.0 0 1 1 906.5,544.9" stroke-width="2.2"/>
<path d="M863.5,508.9 A34.4,34.4 0 1 1 905.9,542.4" stroke-width="0.7"/>
<path d="M875.9,508.9 A22,22 0 1 1 903.0,530.3" stroke-width="0.7" stroke-dasharray="2,1.5"/>
<line x1="893.3" y1="508.9" x2="860.9" y2="508.9" stroke-width="0.85"/>
<line x1="893.4" y1="507.9" x2="861.8" y2="500.7" stroke-width="0.85"/>
<line x1="893.8" y1="506.9" x2="864.5" y2="492.9" stroke-width="0.85"/>
<line x1="894.3" y1="506.0" x2="868.9" y2="485.9" stroke-width="0.85"/>
<line x1="895.0" y1="505.3" x2="874.8" y2="480.0" stroke-width="0.85"/>
<line x1="895.9" y1="504.8" x2="881.8" y2="475.6" stroke-width="0.85"/>
<line x1="896.9" y1="504.4" x2="889.6" y2="472.9" stroke-width="0.85"/>
<line x1="897.9" y1="504.3" x2="897.8" y2="471.9" stroke-width="0.85"/>
<line x1="898.9" y1="504.4" x2="906.0" y2="472.8" stroke-width="0.85"/>
<line x1="899.9" y1="504.7" x2="913.8" y2="475.5" stroke-width="0.85"/>
<line x1="900.8" y1="505.3" x2="920.8" y2="479.9" stroke-width="0.85"/>
<line x1="901.5" y1="506.0" x2="926.7" y2="485.7" stroke-width="0.85"/>
<line x1="902.0" y1="506.9" x2="931.1" y2="492.7" stroke-width="0.85"/>
<line x1="902.4" y1="507.8" x2="933.9" y2="500.4" stroke-width="0.85"/>
<line x1="902.5" y1="508.9" x2="934.9" y2="508.7" stroke-width="0.85"/>
<line x1="902.4" y1="509.9" x2="934.0" y2="516.9" stroke-width="0.85"/>
<line x1="902.1" y1="510.9" x2="931.4" y2="524.7" stroke-width="0.85"/>
<line x1="901.5" y1="511.7" x2="927.0" y2="531.7" stroke-width="0.85"/>
<line x1="900.8" y1="512.5" x2="921.2" y2="537.6" stroke-width="0.85"/>
<line x1="899.9" y1="513.0" x2="914.3" y2="542.1" stroke-width="0.85"/>
<line x1="899.0" y1="513.4" x2="906.5" y2="544.9" stroke-width="0.85"/>
<circle cx="897.9" cy="508.9" r="4.6" fill="#fff" stroke-width="1.3"/>
<circle cx="897.9" cy="508.9" r="2.4" stroke-width="0.6"/>
<line x1="834.3" y1="508.9" x2="893.3" y2="508.9" stroke-width="1"/>
</g>
<rect x="534" y="695" width="143" height="3.6" fill="#9a9a9a"/>
<rect x="534" y="699.6" width="142.8" height="3.6" fill="#1a1a1a"/>
<rect x="534" y="733.4" width="142.8" height="3.2" fill="#1a1a1a"/>
<rect x="534" y="768.2" width="142.8" height="3.4" fill="#1a1a1a"/>
<rect x="533.6" y="699.6" width="2.4" height="112.6" fill="#1a1a1a"/>
<rect x="675.4" y="699.6" width="1.4" height="112.6" fill="#444"/>
<g stroke="#1a1a1a" stroke-width="0.8">
<line x1="536.2" y1="703.2" x2="536.2" y2="733.4"/><line x1="536.2" y1="736.6" x2="536.2" y2="768.2"/>
<line x1="543.5" y1="703.2" x2="543.5" y2="733.4"/><line x1="543.5" y1="736.6" x2="543.5" y2="768.2"/>
<line x1="550.7" y1="703.2" x2="550.7" y2="733.4"/><line x1="550.7" y1="736.6" x2="550.7" y2="768.2"/>
<line x1="558.0" y1="703.2" x2="558.0" y2="733.4"/><line x1="558.0" y1="736.6" x2="558.0" y2="768.2"/>
<line x1="565.2" y1="703.2" x2="565.2" y2="733.4"/><line x1="565.2" y1="736.6" x2="565.2" y2="768.2"/>
<line x1="572.5" y1="703.2" x2="572.5" y2="733.4"/><line x1="572.5" y1="736.6" x2="572.5" y2="768.2"/>
<line x1="579.7" y1="703.2" x2="579.7" y2="733.4"/><line x1="579.7" y1="736.6" x2="579.7" y2="768.2"/>
<line x1="587.0" y1="703.2" x2="587.0" y2="733.4"/><line x1="587.0" y1="736.6" x2="587.0" y2="768.2"/>
<line x1="594.2" y1="703.2" x2="594.2" y2="733.4"/><line x1="594.2" y1="736.6" x2="594.2" y2="768.2"/>
<line x1="601.5" y1="703.2" x2="601.5" y2="733.4"/><line x1="601.5" y1="736.6" x2="601.5" y2="768.2"/>
<line x1="608.7" y1="703.2" x2="608.7" y2="733.4"/><line x1="608.7" y1="736.6" x2="608.7" y2="768.2"/>
<line x1="616.0" y1="703.2" x2="616.0" y2="733.4"/><line x1="616.0" y1="736.6" x2="616.0" y2="768.2"/>
<line x1="623.2" y1="703.2" x2="623.2" y2="733.4"/><line x1="623.2" y1="736.6" x2="623.2" y2="768.2"/>
<line x1="630.5" y1="703.2" x2="630.5" y2="733.4"/><line x1="630.5" y1="736.6" x2="630.5" y2="768.2"/>
<line x1="637.7" y1="703.2" x2="637.7" y2="733.4"/><line x1="637.7" y1="736.6" x2="637.7" y2="768.2"/>
<line x1="645.0" y1="703.2" x2="645.0" y2="733.4"/><line x1="645.0" y1="736.6" x2="645.0" y2="768.2"/>
<line x1="652.2" y1="703.2" x2="652.2" y2="733.4"/><line x1="652.2" y1="736.6" x2="652.2" y2="768.2"/>
<line x1="659.5" y1="703.2" x2="659.5" y2="733.4"/><line x1="659.5" y1="736.6" x2="659.5" y2="768.2"/>
<line x1="666.7" y1="703.2" x2="666.7" y2="733.4"/><line x1="666.7" y1="736.6" x2="666.7" y2="768.2"/>
<line x1="674.0" y1="703.2" x2="674.0" y2="733.4"/><line x1="674.0" y1="736.6" x2="674.0" y2="768.2"/>
<line x1="536" y1="717.8" x2="675" y2="717.8"/><line x1="536" y1="752" x2="675" y2="752"/>
<path d="M563,704 L582,732 M576,704 L586,732 M536,740 L541,752 L536,766 M671,705 L675,718 L671,731" fill="none"/>
</g>
<line x1="578" y1="717.8" x2="658" y2="717.8" stroke="#fff" stroke-width="2" stroke-dasharray="4,2"/>
<rect x="536" y="771.6" width="139.4" height="40.8" fill="#a2a2a2"/>
<rect x="560.2" y="772.8" width="113.4" height="15.6" fill="#fff"/>
<path d="M538,812 L538,801 L545,799 L552,801.5 L560,798.5 L566,802 L575,799 L582,801 L588,797.8 L596,801 L603,799.5 L611,802 L617,798 L624,801.5 L632,799 L640,802 L646,798.5 L654,800.5 L661,798 L668,801 L675,799.5 L675,812 Z" fill="#4a4a4a"/>
<path d="M553,801 H586 M590,800 H617 M620,800 H648" stroke="#777" stroke-width="1.2"/>
<rect x="553" y="798.5" width="95" height="13" fill="none" stroke="#222" stroke-width="0.7"/>
<path d="M612,783.5 H652 M612,795 H654" stroke="#777" stroke-width="0.8" stroke-dasharray="3,2"/>
<g fill="none" stroke="#444" stroke-width="0.6"><path d="M536.0,817.4 L539.6,817.4 L537.8,814.4 Z"/><path d="M552.9,817.4 L556.5,817.4 L554.7,814.4 Z"/><path d="M570.5,817.4 L574.1,817.4 L572.3,814.4 Z"/><path d="M587.4,817.4 L591.0,817.4 L589.2,814.4 Z"/><path d="M604.9,817.4 L608.5,817.4 L606.7,814.4 Z"/><path d="M621.8,817.4 L625.4,817.4 L623.6,814.4 Z"/><path d="M639.4,817.4 L643.0,817.4 L641.2,814.4 Z"/><path d="M656.3,817.4 L659.9,817.4 L658.1,814.4 Z"/><path d="M673.8,817.4 L677.4,817.4 L675.6,814.4 Z"/></g>
<text x="577.8" y="791.5" font-size="12.3" fill="#111" textLength="81.9" lengthAdjust="spacingAndGlyphs">GREEN WALL</text>
<g stroke="#3a1a44" fill="none" stroke-width="0.9">
<path d="M541.1,568.6 V558.5 A4.6,4.6 0 0 1 550.3000000000001,558.5 V568.6" />
<line x1="541.1" y1="563.5" x2="550.3000000000001" y2="563.5" stroke-width="0.6"/>
<path d="M567.6,568.6 V558.5 A4.6,4.6 0 0 1 576.8000000000001,558.5 V568.6" />
<line x1="567.6" y1="563.5" x2="576.8000000000001" y2="563.5" stroke-width="0.6"/>
<path d="M592.8,568.6 V558.5 A4.6,4.6 0 0 1 602.0,558.5 V568.6" />
<line x1="592.8" y1="563.5" x2="602.0" y2="563.5" stroke-width="0.6"/>
<path d="M619.4,568.6 V558.5 A4.6,4.6 0 0 1 628.6,558.5 V568.6" />
<line x1="619.4" y1="563.5" x2="628.6" y2="563.5" stroke-width="0.6"/>
<path d="M545.7,536 h3 v5 h-3 M571.7,536 h-3 v5 h3" stroke-width="1"/>
<circle cx="552.7" cy="538.4" r="3.2" stroke-width="1.1"/><circle cx="564.7" cy="538.4" r="3.2" stroke-width="1.1"/>
<path d="M555.7,531 V544 M561.7,531 V544" stroke-width="0.8"/>
<path d="M597.4,536 h3 v5 h-3 M623.4,536 h-3 v5 h3" stroke-width="1"/>
<circle cx="604.4" cy="538.4" r="3.2" stroke-width="1.1"/><circle cx="616.4" cy="538.4" r="3.2" stroke-width="1.1"/>
<path d="M607.4,531 V544 M613.4,531 V544" stroke-width="0.8"/>
</g>
<g stroke="#2a2a2a" fill="none" stroke-width="0.9">
<rect x="638" y="528" width="9" height="10" rx="2"/><rect x="640" y="520" width="6" height="3"/><rect x="651" y="519.5" width="6" height="3"/>
<path d="M651,555 V547 A6,5 0 0 1 663,547 V555 Z"/><rect x="656" y="540" width="3" height="3"/>
<path d="M648,548 V556 M665,548 V556"/>
<rect x="638" y="543" width="3" height="12"/><rect x="668" y="567" width="12" height="2"/>
</g>
<g font-size="12.5" fill="#111" stroke="#111" stroke-width="0.2">
<text x="573.4" y="673.8" textLength="70.4" lengthAdjust="spacingAndGlyphs">ELEVATORS</text>
<text x="575.6" y="687" textLength="66" lengthAdjust="spacingAndGlyphs">3rd FLOOR</text>
</g>
</g>
<!-- ================= SCALE BAR ================= -->
<g id="scalebar">
 <text x="485.2" y="883.1" font-size="16" font-weight="bold" fill="#111" textLength="26.6" lengthAdjust="spacingAndGlyphs">1 m</text>
 <text x="592.3" y="883.1" font-size="16" font-weight="bold" fill="#111" textLength="26.6" lengthAdjust="spacingAndGlyphs">5 m</text>
 <text x="710" y="883.1" font-size="16" font-weight="bold" fill="#111" textLength="35.4" lengthAdjust="spacingAndGlyphs">10 m</text>
 <rect x="484.9" y="895.6" width="238.6" height="5.6" fill="#fff" stroke="#111" stroke-width="0.9"/>
 <rect x="484.5" y="895.2" width="24.1" height="6.4" fill="#111"/>
 <rect x="532.1" y="895.2" width="25" height="6.4" fill="#111"/>
 <rect x="579.5" y="895.2" width="25.1" height="6.4" fill="#111"/>
 <rect x="484.1" y="889.5" width="1" height="12" fill="#111"/>
 <rect x="603.9" y="889.5" width="1" height="12" fill="#111"/>
 <rect x="723" y="889.5" width="1" height="12" fill="#111"/>
</g>


<g id="site">
<path d="M1057.1,690 H1182.2 V743.4 H1158.8 V746.3 H1142.6 V758 H1119.2 V773.5 H1111.4 V784.1 H1057.1 Z M1128.2,711.2 H1149.8 V739.1 H1119.2 V723.8 H1128.2 Z" fill="#c2c2c2" fill-rule="evenodd"/>
<path d="M1058,735 H1119 V773.5 H1111.4 V784 H1058 Z" fill="url(#dots)"/>
<path d="M1057.1,690 H1182.2 V760.4 M1182.2,769.6 V878.6 L1152.5,896.1 H1094.9 V924.9 M1057.1,690 V945.6" stroke="#444" stroke-width="0.9" fill="none" stroke-dasharray="1.2,0.5"/>
<path d="M1059.8,944.2 L1119.2,912.7 V896.1 M1094.9,924.9 L1094.9,896.1" stroke="#555" stroke-width="0.8" fill="none"/>
<path d="M1128.2,711.2 H1149.8 V739.1 H1119.2 V723.8 H1128.2 Z" stroke="#333" stroke-width="0.9" fill="none"/>
<path d="M1057.1,734.6 H1119.2" stroke="#777" stroke-width="0.9"/>
<path d="M1057.1,784.1 H1111 M1057.1,810.6 H1111.1 M1152.5,810.6 H1182.2" stroke="#444" stroke-width="0.9" fill="none" stroke-dasharray="1.2,0.5"/>
<path d="M1057.1,810.6 L1110.2,785.4" stroke="#555" stroke-width="0.8"/>
<path d="M1160.6,771.8 L1182.2,809.7 M1159.7,758 V810.6 M1160,769.4 H1182.2" stroke="#555" stroke-width="0.8" fill="none"/>
<path d="M1119.2,785.4 H1150.7 V810.6 M1119.2,810.6 V827.7 H1152.5 V810.6 M1139.4,827.7 V843.4 H1129.1 V871.8 H1107.5 V896.1" stroke="#444" stroke-width="0.9" fill="none" stroke-dasharray="1.2,0.5"/>
<rect x="1111.1" y="785.4" width="9" height="25.2" fill="#fff" stroke="#333" stroke-width="0.8"/>
<path d="M1142.6,746.3 H1158.8 V743.4 H1182.2 M1152.5,758 V773.8 M1152.5,774 H1159.7 V758" stroke="#444" stroke-width="0.8" fill="none"/>
<path d="M1160,754 H1178 V757 H1182" stroke="#444" stroke-width="0.7" fill="none"/>
<path d="M1160,758 H1182.2" stroke="#444" stroke-width="0.7" fill="none"/>
<path d="M1160,750.5 H1178.8 V754.4 H1182.4" stroke="#444" stroke-width="0.7" fill="none"/>
<rect x="1119.2" y="758" width="33.3" height="15.8" fill="#fff" stroke="#333" stroke-width="1"/>
<path d="M1120.8,759.5 h9 v12.8 h-9 Z M1120.8,759.5 l9,12.8 M1129.8,759.5 l-9,12.8" stroke="#333" stroke-width="0.6" fill="none"/>
<path d="M1131.2,759.5 h9 v12.8 h-9 Z M1131.2,759.5 l9,12.8 M1140.2,759.5 l-9,12.8" stroke="#333" stroke-width="0.6" fill="none"/>
<path d="M1141.6,759.5 h9 v12.8 h-9 Z M1141.6,759.5 l9,12.8 M1150.6,759.5 l-9,12.8" stroke="#333" stroke-width="0.6" fill="none"/>
<rect x="1118.8" y="746.5" width="1.6" height="24" fill="#666"/>
<line x1="1131" y1="739" x2="1131" y2="758" stroke="#555" stroke-width="0.8"/>
<line x1="1142.6" y1="746.3" x2="1142.6" y2="758" stroke="#555" stroke-width="0.8"/>
<g fill="#222"><polygon points="1114.4,776.7 1117.6,776.7 1116,774.3"/><polygon points="1123.4,776.7 1126.6,776.7 1125,774.3"/><polygon points="1134.4,776.7 1137.6,776.7 1136,774.3"/><polygon points="1145.4,776.7 1148.6,776.7 1147,774.3"/><polygon points="1155.4,749.6 1158.6,749.6 1157,747.1999999999999"/><polygon points="1114.4,789.2 1117.6,789.2 1116,786.8"/><polygon points="1114.4,806.3 1117.6,806.3 1116,808.7"/><polygon points="1154.9,806.3 1158.1,806.3 1156.5,808.7"/></g>
<g fill="#3a3a3a" stroke="#222" stroke-width="0.5"><circle cx="1058" cy="691" r="1.3"/><circle cx="1089" cy="691" r="1.3"/><circle cx="1119" cy="691" r="1.3"/><circle cx="1150" cy="691" r="1.3"/><circle cx="1181.5" cy="691" r="1.3"/><circle cx="1058" cy="728.5" r="1.3"/><circle cx="1181.5" cy="728.5" r="1.3"/><circle cx="1058" cy="769.5" r="1.3"/><circle cx="1058" cy="811" r="1.3"/><circle cx="1181.5" cy="811" r="1.3"/><circle cx="1058" cy="852.5" r="1.3"/><circle cx="1120" cy="852.5" r="1.3"/><circle cx="1181.5" cy="852.5" r="1.3"/><circle cx="1058" cy="894" r="1.3"/><circle cx="1120" cy="894" r="1.3"/></g>
<rect x="1107" y="831.5" width="4" height="2.4" fill="none" stroke="#555" stroke-width="0.6"/>
<rect x="1161" y="811" width="3" height="5" fill="#aaa"/>
<path d="M1182.4,734.8 H1208 V749.6 L1194.8,760.4 H1182.4" stroke="#555" stroke-width="0.9" fill="none"/>
<path d="M1200.4,756.4 L1210.8,770.4 M1182.4,769.2 H1210" stroke="#666" stroke-width="0.8" fill="none"/>
<path d="M1208,734.8 V732.4 L1231.6,714.4 V635.6 H1204.2 V615 H1225.5 V624.2 H1231 V618.7 H1320.4 V683.2 H1400" stroke="#777" stroke-width="0.8" fill="none" stroke-dasharray="1.5,0.5"/>
<path d="M1400,764.6 H1320.4 V806 H1267 V832.2 L1243.4,844.8 V806 H1231.6 V754.8 L1210.8,770.4" stroke="#777" stroke-width="0.8" fill="none" stroke-dasharray="1.5,0.5"/>
<circle cx="1356.7" cy="655" r="15.8" fill="none" stroke="#222" stroke-width="1"/>
<path d="M1361.5,639.5 L1352.3,670.6 M1340.9,650.6 L1372.6,659.4" stroke="#222" stroke-width="0.9"/>
<text x="1355.5" y="631" font-size="20" font-weight="bold" font-style="italic" fill="#111" textLength="16" lengthAdjust="spacingAndGlyphs">P</text>
<text x="1086.4" y="677" font-size="13.3" fill="#111" textLength="78.7" lengthAdjust="spacingAndGlyphs">MIESTENTIE</text>
<text transform="translate(1105.5,946) rotate(-30)" font-size="13.3" fill="#111" textLength="121" lengthAdjust="spacingAndGlyphs">KUUSISAARENTIE</text>
</g>


<text x="1368.7" y="990.9" font-size="14" fill="#2a2a2a" textLength="124.3" lengthAdjust="spacingAndGlyphs">© Työeläkeyhtiö Elo</text>
</svg>
</body></html>
